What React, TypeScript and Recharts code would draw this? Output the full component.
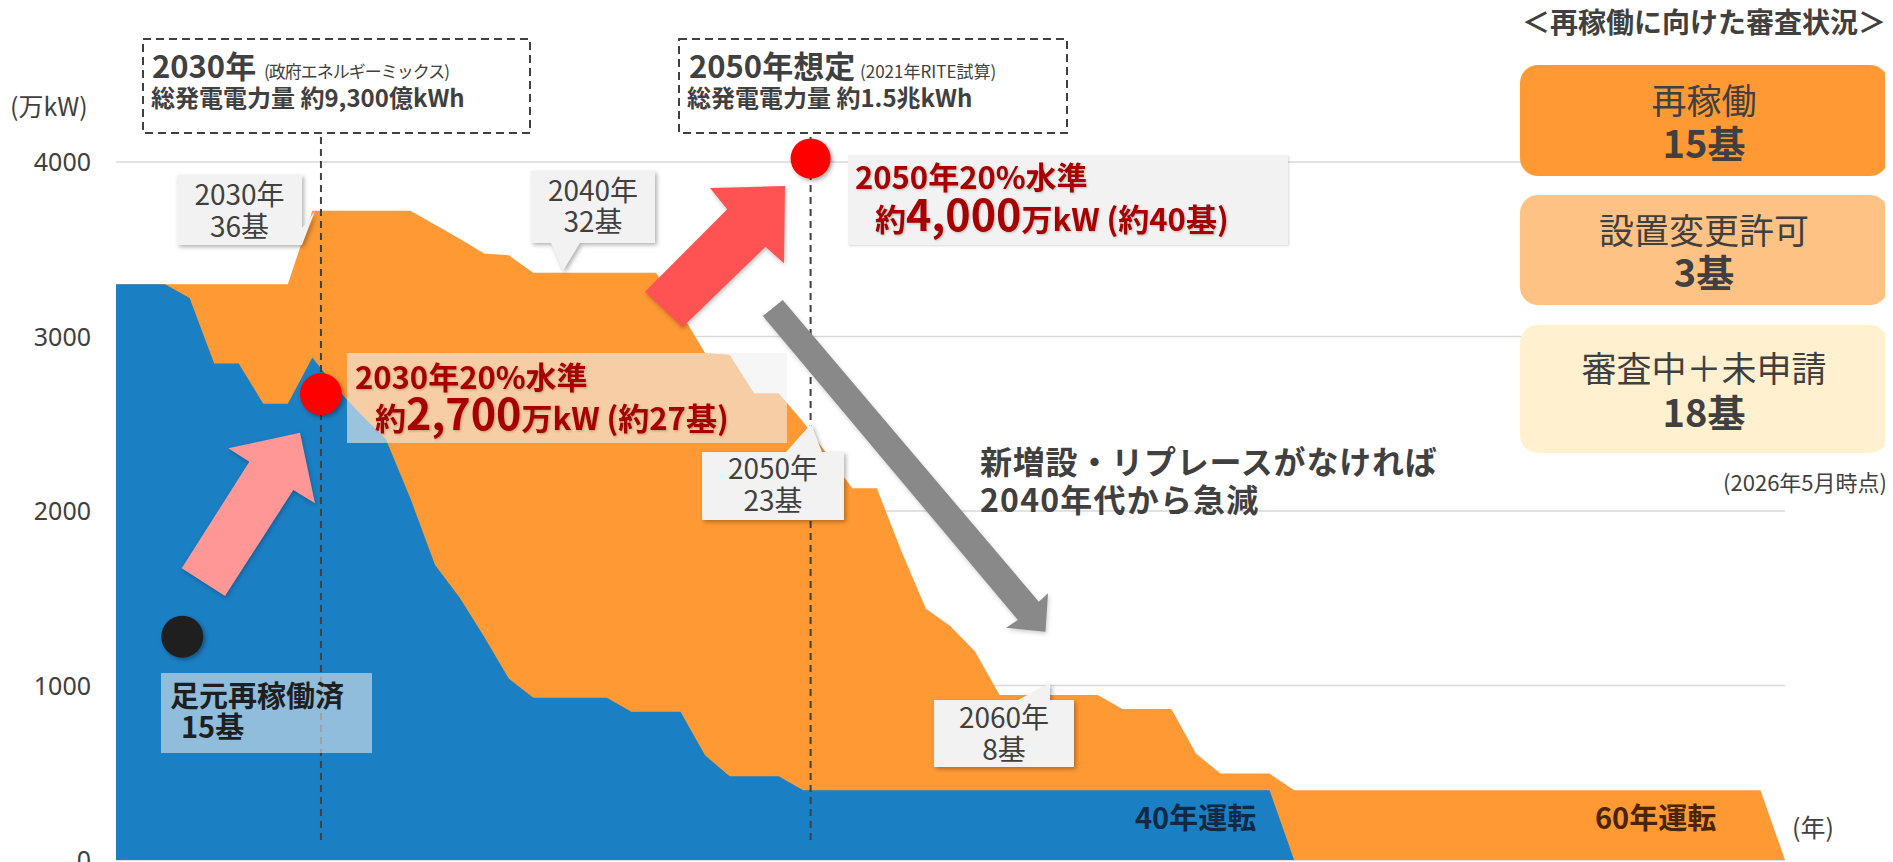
import React from 'react';
import { AreaChart, Area, XAxis, YAxis, CartesianGrid, ReferenceLine, ReferenceDot } from 'recharts';

const years = [
  2022, 2023, 2024, 2025, 2026, 2027, 2028, 2029, 2030, 2031, 2032, 2033, 2034, 2035, 2036, 2037, 2038, 2039,
  2040, 2041, 2042, 2043, 2044, 2045, 2046, 2047, 2048, 2049, 2050, 2051, 2052, 2053, 2054, 2055, 2056, 2057,
  2058, 2059, 2060, 2061, 2062, 2063, 2064, 2065, 2066, 2067, 2068, 2069, 2070, 2071, 2072, 2073, 2074, 2075,
  2076, 2077, 2078, 2079, 2080, 2081, 2082, 2083, 2084, 2085, 2086, 2087, 2088, 2089, 2090,
];

// 60年運転 (万kW)
const capacity60 = [
  3300, 3300, 3300, 3300, 3300, 3300, 3300, 3300,
  3720, 3720, 3720, 3720, 3720,
  3640, 3560, 3475, 3465,
  3365, 3365, 3365, 3365, 3365, 3365,
  3140, 2905, 2895, 2675, 2675, 2510, 2320, 2130, 2130, 1770, 1440, 1340, 1195,
  945, 945, 945, 945, 945,
  865, 865, 865,
  610,
  495, 495, 495,
  400, 400, 400, 400, 400, 400, 400, 400, 400, 400, 400, 400, 400, 400, 400, 400, 400, 400, 400, 400,
  0,
];

// 40年運転 (万kW)
const capacity40 = [
  3300, 3300, 3300, 3220, 2845, 2845, 2615, 2615, 2880, 2700, 2550, 2410, 2070, 1690, 1505, 1280, 1040,
  930, 930, 930, 930,
  850, 850, 850,
  600,
  480, 480, 480,
  400, 400, 400, 400, 400, 400, 400, 400, 400, 400, 400, 400, 400, 400, 400, 400, 400, 400, 400, 400,
  0, 0, 0, 0, 0, 0, 0, 0, 0, 0, 0, 0, 0, 0, 0, 0, 0, 0, 0, 0, 0,
];

const yTicks = [0, 1000, 2000, 3000, 4000];

// marker positions (year, 万kW)
const marker2030 = [2030.35, 2670];
const marker2050 = [2050.3, 4020];
const markerNow = [2024.7, 1280];
const guideRange = [115, 4166];

const data = years.map((y, i) => ({ year: y, total: capacity60[i], op40: capacity40[i] }));

const FONT = "'Noto Sans CJK JP', 'Noto Sans', sans-serif";
const GRAY = '#404040';
const DARKRED = '#A60000';
const SHADOW = 'drop-shadow(2px 2px 2px rgba(0,0,0,0.3))';

const dotShape = (fill: string, r: number) => (props: any) => (
  <circle cx={props.cx} cy={props.cy} r={r} fill={fill} style={{ filter: 'drop-shadow(2px 2px 2px rgba(0,0,0,0.35))' }} />
);

const YTick = (props: any) => (
  <text
    x={props.x}
    y={props.y}
    dy="0.36em"
    textAnchor="end"
    fontSize={25}
    fill={GRAY}
    fontFamily="'Noto Sans', sans-serif"
  >
    {props.payload.value}
  </text>
);

function Overlay() {
  const t = (x: number, y: number, s: string, fs: number, opts: any = {}) => (
    <text
      x={x}
      y={y}
      fontSize={fs}
      fontFamily={FONT}
      fill={opts.fill || GRAY}
      fontWeight={opts.bold ? 700 : 400}
      textAnchor={opts.anchor || 'start'}
      letterSpacing={opts.ls || 0}
      style={opts.style}
    >
      {s}
    </text>
  );
  const redShadow = { filter: 'drop-shadow(1px 1px 1px rgba(0,0,0,0.25))' };
  return (
    <svg
      width={1893}
      height={862}
      viewBox="0 0 1893 862"
      style={{ position: 'absolute', left: -8, top: -8, pointerEvents: 'none' }}
    >
      {/* unit label */}
      {t(10, 116, '(万kW)', 25)}

      {/* 2030 dashed box */}
      <rect x={143} y={39} width={387} height={94} fill="none" stroke={GRAY} strokeWidth={2} strokeDasharray="8 5" />
      {t(152, 78, '2030年', 31, { bold: true })}
      {t(264, 78, '(政府エネルギーミックス)', 17, { ls: -1 })}
      {t(151, 107, '総発電電力量 約9,300億kWh', 24, { bold: true })}

      {/* 2050 dashed box */}
      <rect x={679} y={39} width={388} height={94} fill="none" stroke={GRAY} strokeWidth={2} strokeDasharray="8 5" />
      {t(689, 78, '2050年想定', 31, { bold: true })}
      {t(860, 78, '(2021年RITE試算)', 17)}
      {t(687, 107, '総発電電力量 約1.5兆kWh', 24, { bold: true })}

      {/* callouts */}
      <g style={{ filter: SHADOW }}>
        <path d="M177 175 H302 V228 L315 211 L302 245 H177 Z" fill="#F2F2F2" />
        <path d="M531 171 H655 V243 H580 L563 271 L551 243 H531 Z" fill="#F2F2F2" />
        <path d="M702 452 H786 L811 424 L822 452 H844 V520 H702 Z" fill="#F2F2F2" />
        <path d="M934 700 H1018 L1050 683 L1050 700 H1074 V767 H934 Z" fill="#F2F2F2" />
      </g>
      {t(239.5, 205, '2030年', 28, { anchor: 'middle' })}
      {t(239.5, 237, '36基', 28, { anchor: 'middle' })}
      {t(593, 201, '2040年', 28, { anchor: 'middle' })}
      {t(593, 232, '32基', 28, { anchor: 'middle' })}
      {t(773, 479, '2050年', 28, { anchor: 'middle' })}
      {t(773, 511, '23基', 28, { anchor: 'middle' })}
      {t(1004, 728, '2060年', 28, { anchor: 'middle' })}
      {t(1004, 760, '8基', 28, { anchor: 'middle' })}

      {/* arrows */}
      <polygon
        points="181.7,568.3 249.3,461.7 228.3,448.3 300,432.7 315,503.3 293.3,490 225,596"
        fill="#FF9797"
        style={{ filter: 'drop-shadow(1px 2px 2px rgba(0,0,0,0.25))' }}
      />
      <polygon
        points="645,291.7 727.2,209.3 710,188 785,186 784,263.3 765.5,246.7 682.4,327.3"
        fill="#FF5252"
        style={{ filter: 'drop-shadow(1px 2px 2px rgba(0,0,0,0.25))' }}
      />
      <polygon
        points="782.7,300 1038.8,601.7 1048,593.3 1045.5,631.7 1006,627.7 1017.9,620 762.8,316"
        fill="#898989"
        style={{ filter: 'drop-shadow(1px 2px 2px rgba(0,0,0,0.2))' }}
      />

      {/* 2030 20% label */}
      <rect x={347} y={353} width={440} height={90} fill="#F0F0F0" fillOpacity={0.6} />
      <text x={355} y={389} fontSize={31} fontFamily={FONT} fontWeight={700} fill={DARKRED} style={redShadow}>
        2030年20%水準
      </text>
      <text x={375} y={430} fontSize={31} fontFamily={FONT} fontWeight={700} fill={DARKRED} style={redShadow}>
        <tspan>約</tspan>
        <tspan fontSize={43}>2,700</tspan>
        <tspan>万kW (約27基)</tspan>
      </text>

      {/* 2050 20% label */}
      <rect x={848} y={155} width={440} height={90} fill="#F2F2F2" style={{ filter: 'drop-shadow(1px 1px 1px rgba(0,0,0,0.15))' }} />
      <text x={855} y={189} fontSize={31} fontFamily={FONT} fontWeight={700} fill={DARKRED} style={redShadow}>
        2050年20%水準
      </text>
      <text x={875} y={231} fontSize={31} fontFamily={FONT} fontWeight={700} fill={DARKRED} style={redShadow}>
        <tspan>約</tspan>
        <tspan fontSize={43}>4,000</tspan>
        <tspan>万kW (約40基)</tspan>
      </text>

      {/* current restarted */}
      <rect x={161} y={673} width={211} height={80} fill="#F0F0F0" fillOpacity={0.55} />
      {t(170, 707, '足元再稼働済', 29, { bold: true, fill: '#1F1F1F' })}
      {t(181, 738, '15基', 29, { bold: true, fill: '#1F1F1F' })}

      {/* decline note */}
      {t(980, 474, '新増設・リプレースがなければ', 32, { bold: true, ls: 0.8 })}
      {t(980, 512, '2040年代から急減', 32, { bold: true, ls: 1.2 })}

      {/* series labels */}
      {t(1135, 829, '40年運転', 29, { bold: true, fill: '#0E2A47' })}
      {t(1595, 829, '60年運転', 29, { bold: true, fill: '#4A2500' })}
      {t(1792, 837, '(年)', 25)}

      {/* right panel */}
      {t(1704, 33, '＜再稼働に向けた審査状況＞', 28, { bold: true, anchor: 'middle' })}
      <rect x={1520} y={65} width={368} height={111} rx={18} fill="#FF9933" />
      <rect x={1520} y={195} width={368} height={110} rx={18} fill="#FFC285" />
      <rect x={1520} y={325} width={368} height={128} rx={18} fill="#FFF1D0" />
      {t(1704, 114, '再稼働', 35, { anchor: 'middle' })}
      {t(1704, 158, '15基', 38, { bold: true, anchor: 'middle' })}
      {t(1704, 244, '設置変更許可', 35, { anchor: 'middle' })}
      {t(1704, 287, '3基', 38, { bold: true, anchor: 'middle' })}
      {t(1704, 382, '審査中＋未申請', 35, { anchor: 'middle' })}
      {t(1704, 427, '18基', 38, { bold: true, anchor: 'middle' })}
      {t(1887, 491, '(2026年5月時点)', 22, { anchor: 'end' })}
    </svg>
  );
}

export default function App() {
  return (
    <div style={{ position: 'relative', width: 1885, height: 854, fontFamily: FONT }}>
      <style>{'html, body { overflow: hidden; }'}</style>
      <AreaChart width={1885} height={854} data={data} margin={{ top: 154, right: 108, bottom: 2, left: 8 }}>
        <CartesianGrid horizontal vertical={false} stroke="#D9D9D9" strokeWidth={1.5} />
        <XAxis type="number" dataKey="year" domain={[2022, 2090]} hide />
        <YAxis
          type="number"
          domain={[0, 4000]}
          ticks={yTicks}
          interval={0}
          width={100}
          axisLine={false}
          tickLine={false}
          tickSize={0}
          tickMargin={25}
          tick={YTick}
        />
        <Area
          type="linear"
          dataKey="total"
          fill="#FF9933"
          fillOpacity={1}
          stroke="none"
          dot={false}
          activeDot={false}
          isAnimationActive={false}
        />
        <Area
          type="linear"
          dataKey="op40"
          fill="#1B7FC4"
          fillOpacity={1}
          stroke="none"
          dot={false}
          activeDot={false}
          isAnimationActive={false}
        />
        <ReferenceLine
          segment={[{ x: marker2030[0], y: guideRange[0] }, { x: marker2030[0], y: guideRange[1] }]}
          stroke={GRAY}
          strokeWidth={2}
          strokeDasharray="7 5"
          ifOverflow="visible"
        />
        <ReferenceLine
          segment={[{ x: marker2050[0], y: guideRange[0] }, { x: marker2050[0], y: guideRange[1] }]}
          stroke={GRAY}
          strokeWidth={2}
          strokeDasharray="7 5"
          ifOverflow="visible"
        />
        <ReferenceDot x={markerNow[0]} y={markerNow[1]} r={21} ifOverflow="visible" shape={dotShape('#1F1F1F', 21)} />
        <ReferenceDot x={marker2030[0]} y={marker2030[1]} r={21} ifOverflow="visible" shape={dotShape('#FF0000', 21)} />
        <ReferenceDot x={marker2050[0]} y={marker2050[1]} r={20} ifOverflow="visible" shape={dotShape('#FF0000', 20)} />
      </AreaChart>
      <Overlay />
    </div>
  );
}
